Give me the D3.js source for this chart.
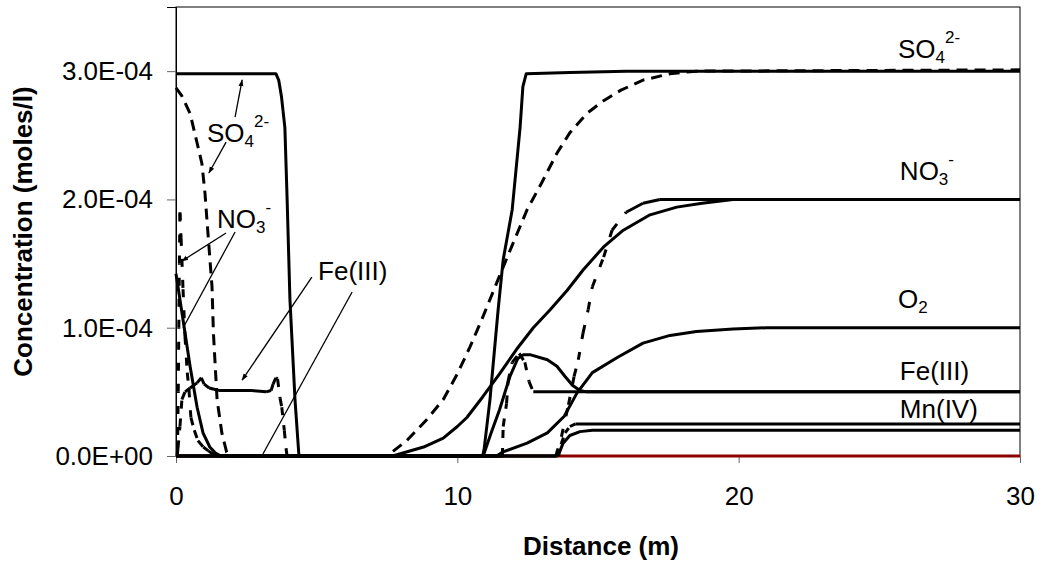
<!DOCTYPE html>
<html><head><meta charset="utf-8">
<script src="https://cdn.jsdelivr.net/npm/d3@7/dist/d3.min.js"></script>
<style>
body{margin:0;background:#fff}
svg{display:block}
text{font-family:"Liberation Sans",Arial,Helvetica,sans-serif;fill:#000}
</style>
</head><body>
<svg id="chart" width="1041" height="566"></svg>
<script>
// ---- data (concentration in units of 1E-04 moles/l, distance in m) ----
const xTicks = [0, 10, 20, 30];
const yTicks = [0, 1, 2, 3];

const so4A = [[0,2.98],[3.55,2.98],[3.65,2.93],[3.75,2.8],[3.87,2.56],[3.95,2.0],[4.05,1.22],[4.23,0.44],[4.37,0],
  [10.9,0],[10.95,0.05],[11.16,0.44],[11.45,1.14],[11.63,1.53],[11.95,1.92],[12.23,2.56],[12.33,2.88],[12.45,2.98],[14,2.99],[16,3.0],[30,3.0]];
const so4B = [[0,2.87],[0.2,2.81],[0.5,2.67],[0.75,2.44],[0.92,2.28],[1.03,2.05],[1.1,1.84],[1.2,1.55],[1.28,1.32],[1.33,0.96],[1.46,0.44],[1.63,0.18],[1.8,0.03],[2.0,0],
  [7.5,0],[8.2,0.12],[8.9,0.28],[9.5,0.44],[10.0,0.64],[10.45,0.85],[10.9,1.08],[11.4,1.35],[11.87,1.6],[12.48,1.92],[13.0,2.13],[13.54,2.36],[14.0,2.52],[14.6,2.67],[15.2,2.77],[15.8,2.85],[16.6,2.93],[17.56,2.98],[18.5,3.0],[30,3.01]];
const no3A = [[0,1.42],[0.14,1.22],[0.32,0.96],[0.5,0.7],[0.75,0.38],[0.96,0.18],[1.2,0.07],[1.42,0.02],[1.6,0],
  [7.7,0],[8.8,0.07],[9.5,0.14],[10,0.23],[10.34,0.3],[10.9,0.46],[11.5,0.64],[12.1,0.83],[12.7,1.0],[13.3,1.14],[13.9,1.29],[14.47,1.45],[15.2,1.63],[15.9,1.76],[16.85,1.88],[17.8,1.94],[18.7,1.97],[19.8,2.0],[30,2.0]];
const no3B = [[0.05,0],[0.08,0.5],[0.1,1.0],[0.12,1.5],[0.14,1.9],[0.18,1.7],[0.25,1.3],[0.32,0.93],[0.4,0.65],[0.46,0.52],[0.53,0.3],[0.65,0.2],[0.78,0.12],[0.97,0.07],[1.15,0.04],[1.35,0.01],[1.5,0],
  [13.5,0],[13.7,0.15],[13.95,0.4],[14.15,0.62],[14.3,0.75],[14.47,0.96],[14.65,1.14],[14.8,1.32],[15.2,1.55],[15.5,1.76],[16.0,1.9],[16.6,1.97],[17.2,2.0],[30,2.0]];
const o2A = [[0,0],[11.4,0],[11.6,0.03],[12.48,0.1],[13.2,0.18],[13.8,0.31],[14.25,0.49],[14.8,0.65],[15.7,0.77],[16.6,0.88],[17.56,0.94],[18.5,0.97],[19.8,0.99],[21,1.0],[30,1.0]];
const feA = [[0,0],[10.9,0],[10.95,0.02],[11.2,0.18],[11.5,0.36],[11.87,0.62],[12.15,0.76],[12.35,0.79],[12.58,0.79],[13.2,0.75],[13.54,0.7],[13.83,0.62],[14.1,0.55],[14.36,0.51],[14.6,0.5],[30,0.5]];
const feB = [[0.04,0],[0.07,0.06],[0.14,0.23],[0.21,0.44],[0.32,0.5],[0.5,0.53],[0.75,0.57],[0.9,0.61],[1.0,0.56],[1.18,0.53],[1.53,0.51],[2.7,0.51],[3.2,0.5],[3.38,0.51],[3.45,0.56],[3.55,0.61],[3.61,0.6],[3.7,0.45],[3.76,0.38],[3.85,0.2],[3.91,0.06],[3.95,0],
  [11.6,0],[11.63,0.23],[11.75,0.41],[11.8,0.58],[11.95,0.73],[12.2,0.8],[12.4,0.73],[12.55,0.58],[12.7,0.5],[30,0.5]];
const mnA = [[0,0],[13.54,0],[13.65,0.04],[13.76,0.1],[14.0,0.16],[14.36,0.19],[14.8,0.2],[30,0.2]];
const mnB = [[13.6,0],[13.7,0.1],[13.83,0.18],[14.0,0.23],[14.2,0.25],[30,0.25]];
const baseRed = [[0,0],[30,0]];

// labels: text parts and anchor (x in m, y in 1E-04)
const rightLabels = [
  {main:"SO", sub:"4", sup:"2-", x:25.66, y:3.10},
  {main:"NO", sub:"3", sup:"-", x:25.73, y:2.15},
  {main:"O", sub:"2", sup:"", x:25.66, y:1.153},
  {main:"Fe(III)", sub:"", sup:"", x:25.73, y:0.592},
  {main:"Mn(IV)", sub:"", sup:"", x:25.73, y:0.296}
];
const leftLabels = [
  {main:"SO", sub:"4", sup:"2-", x:1.10, y:2.447},
  {main:"NO", sub:"3", sup:"-", x:1.46, y:1.777},
  {main:"Fe(III)", sub:"", sup:"", x:5.05, y:1.372}
];
// pointer lines: from -> to, arrow head flag
const pointers = [
  [[2.10,2.642],[2.35,2.931],true],
  [[1.78,2.447],[1.17,2.206],true],
  [[1.78,1.738],[0.21,1.52],true],
  [[2.10,1.746],[0.25,0.998],false],
  [[4.83,1.395],[2.35,0.592],true],
  [[6.26,1.278],[3.09,0.016],false]
];

// ---- chart ----
const svg = d3.select("#chart");
const L = 176, R = 1020, T = 7, B = 456;
const x = d3.scaleLinear().domain([0,30]).range([L,R]);
const y = d3.scaleLinear().domain([0,3.5]).range([B,T]);

svg.append("defs").append("marker").attr("id","ah").attr("viewBox","0 0 10 10")
  .attr("refX",9).attr("refY",5).attr("markerWidth",7).attr("markerHeight",7).attr("orient","auto")
  .attr("markerUnits","userSpaceOnUse")
  .append("path").attr("d","M0,1.5 L10,5 L0,8.5 Z").attr("fill","#000");

// frame
svg.append("rect").attr("x",L).attr("y",T).attr("width",R-L).attr("height",B-T)
  .attr("fill","none").attr("stroke","#000").attr("stroke-width",1);

const yAxis = svg.append("g").attr("transform",`translate(${L},0)`)
  .call(d3.axisLeft(y).tickValues(yTicks).tickSize(9).tickPadding(14)
    .tickFormat(d => d===0 ? "0.0E+00" : d.toFixed(1)+"E-04"));
yAxis.select(".domain").attr("stroke","#000");
yAxis.selectAll(".tick line").attr("stroke","#666");
yAxis.selectAll("text").attr("font-size",26).style("font-family",'"Liberation Sans",Arial,sans-serif');

const xAxis = svg.append("g").attr("transform",`translate(0,${B})`)
  .call(d3.axisBottom(x).tickValues(xTicks).tickSize(7).tickPadding(24).tickFormat(d3.format("d")));
xAxis.select(".domain").attr("stroke","#000");
xAxis.selectAll(".tick line").attr("stroke","#666");
xAxis.selectAll("text").attr("font-size",26).style("font-family",'"Liberation Sans",Arial,sans-serif');

svg.append("text").attr("x",(L+R)/2+3).attr("y",555).attr("text-anchor","middle")
  .attr("font-size",26).attr("font-weight","bold").text("Distance (m)");
svg.append("text").attr("transform",`translate(32,${(T+B)/2}) rotate(-90)`).attr("text-anchor","middle")
  .attr("font-size",26).attr("font-weight","bold").text("Concentration (moles/l)");

const line = d3.line().x(d=>x(d[0])).y(d=>y(d[1]));
const plot = svg.append("g");

function solid(data, color="#000", w=3){
  plot.append("path").datum(data).attr("d",line).attr("fill","none")
    .attr("stroke",color).attr("stroke-width",w).attr("stroke-linejoin","round");
}
function dashed(data, dash){
  plot.append("path").datum(data).attr("d",line).attr("fill","none")
    .attr("stroke","#000").attr("stroke-width",3).attr("stroke-dasharray",dash);
}
// segment-wise: steep segments dashed, flat segments solid
function segDashed(data, dash){
  for(let i=1;i<data.length;i++){
    const a=data[i-1], b=data[i];
    const dx=Math.abs(x(b[0])-x(a[0])), dy=Math.abs(y(b[1])-y(a[1]));
    plot.append("path").datum([a,b]).attr("d",line).attr("fill","none")
      .attr("stroke","#000").attr("stroke-width",3)
      .attr("stroke-dasharray", dy>dx ? dash : null);
  }
}

solid(baseRed, "#8b0000", 3);
solid(so4A); solid(no3A); solid(o2A); solid(feA); solid(mnA);
dashed(so4B, "11,7");
segDashed(no3B, "8,13");
segDashed(feB, "8,10");
segDashed(mnB, "6,6");

// pointers
pointers.forEach(p=>{
  const l = svg.append("line").attr("x1",x(p[0][0])).attr("y1",y(p[0][1]))
    .attr("x2",x(p[1][0])).attr("y2",y(p[1][1])).attr("stroke","#000").attr("stroke-width",1.3);
  if(p[2]) l.attr("marker-end","url(#ah)");
});

function label(lb){
  const t = svg.append("text").attr("x",x(lb.x)).attr("y",y(lb.y)).attr("font-size",26);
  t.append("tspan").text(lb.main);
  if(lb.sub) t.append("tspan").attr("font-size",17).attr("dy",5).text(lb.sub);
  if(lb.sup) t.append("tspan").attr("font-size",17).attr("dy",lb.sub?-20:-15).text(lb.sup);
}
rightLabels.forEach(label);
leftLabels.forEach(label);
</script>
</body></html>
